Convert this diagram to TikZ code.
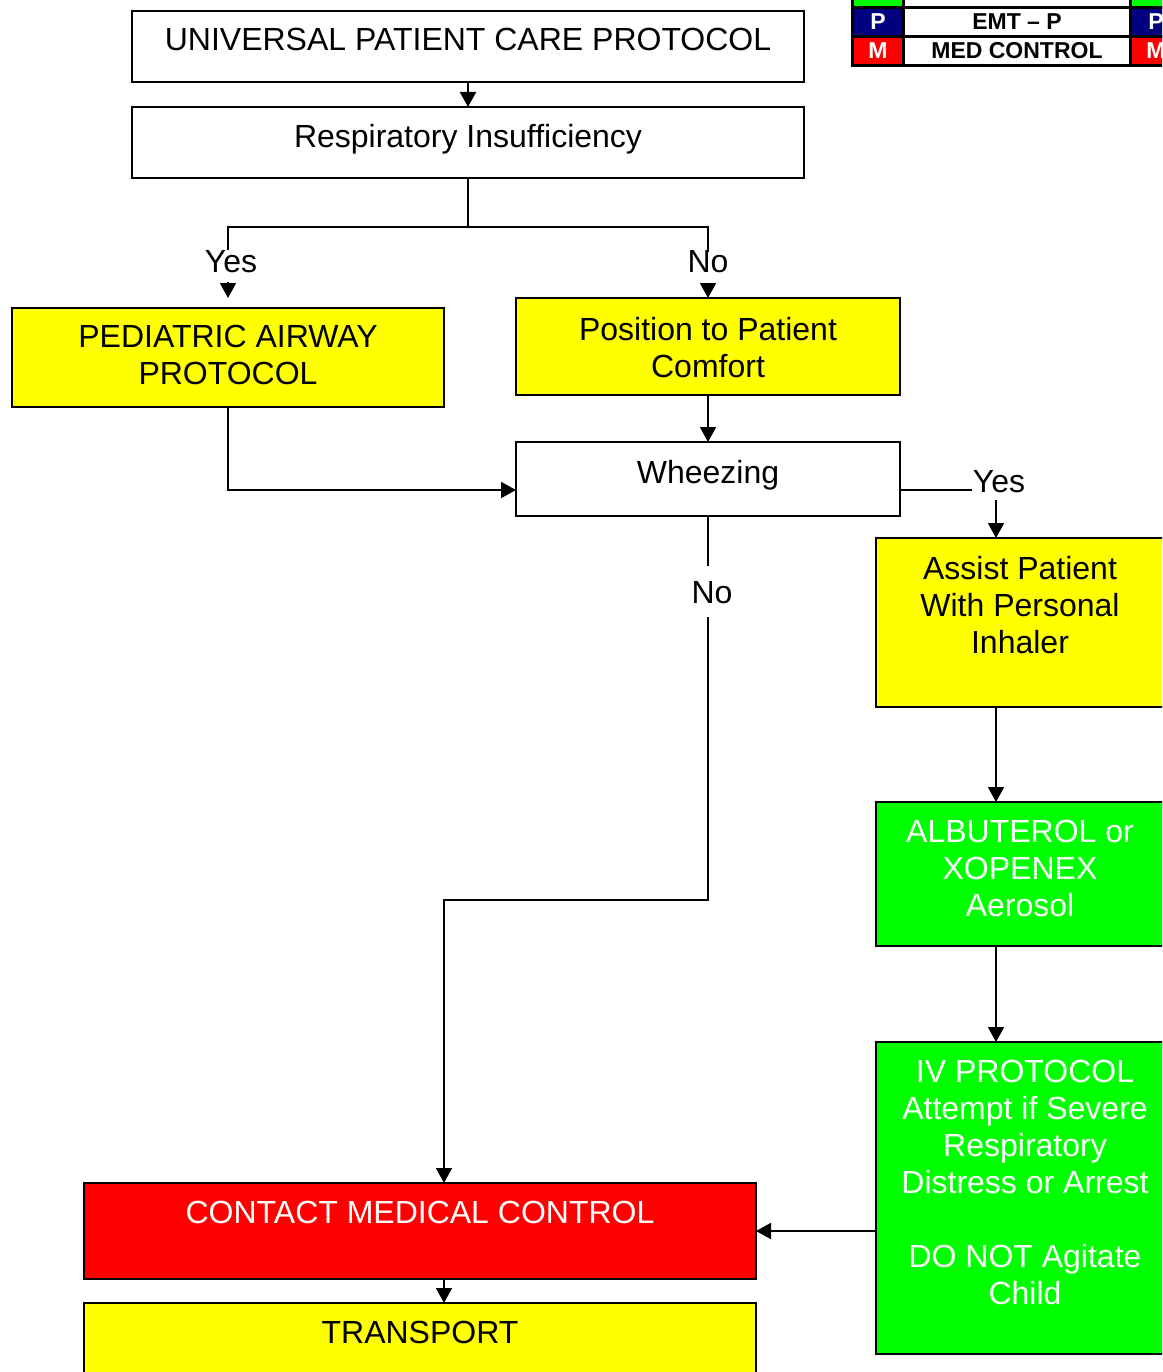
\documentclass[tikz,border=0pt]{standalone}
\usepackage{fontspec}
\setmainfont{Liberation Sans}
\usetikzlibrary{arrows.meta}
\definecolor{flowyellow}{RGB}{255,255,0}
\definecolor{flowgreen}{RGB}{0,255,0}
\definecolor{flowred}{RGB}{255,0,0}
\definecolor{flownavy}{RGB}{0,0,128}
\begin{document}
\begin{tikzpicture}[x=1pt,y=-1pt,
  box/.style={draw=black,line width=2pt,anchor=north west,inner sep=0pt,outer sep=0pt},
  txt/.style={anchor=north,inner sep=0pt,align=center,font=\fontsize{32}{37}\selectfont},
  conn/.style={line width=2pt,draw=black},
  arr/.style={conn,-{Triangle[length=15pt,width=16pt]}},
  cell/.style={draw=black,line width=3pt,anchor=north west,inner sep=0pt,
    minimum height=29pt,font=\fontsize{23}{26}\selectfont\bfseries}]

\useasboundingbox (0,0) rectangle (1162,1372);
\clip (0,0) rectangle (1162,1372);
\fill[white] (0,0) rectangle (1162,1372);

% ---- boxes ----
\node[box,minimum width=672pt,minimum height=71pt] (univ) at (132,11) {};
\node[box,minimum width=672pt,minimum height=71pt] (resp) at (132,107) {};
\node[box,fill=flowyellow,minimum width=432pt,minimum height=99pt] (ped) at (12,308) {};
\node[box,fill=flowyellow,minimum width=384pt,minimum height=97pt] (pos) at (516,298) {};
\node[box,minimum width=384pt,minimum height=74pt] (wheez) at (516,442) {};
\node[box,fill=flowyellow,minimum width=292pt,minimum height=169pt] (assist) at (876,538) {};
\node[box,fill=flowgreen,minimum width=292pt,minimum height=144pt] (alb) at (876,802) {};
\node[box,fill=flowgreen,minimum width=292pt,minimum height=312pt] (iv) at (876,1042) {};
\node[box,fill=flowred,minimum width=672pt,minimum height=96pt] (contact) at (84,1183) {};
\node[box,fill=flowyellow,minimum width=672pt,minimum height=100pt] (transport) at (84,1303) {};

% ---- box texts ----
\node[txt] (univT) at (468,28) {UNIVERSAL PATIENT CARE PROTOCOL};
\node[txt] (respT) at (468,124) {Respiratory Insufficiency};
\node[txt] (pedT) at (228,325) {PEDIATRIC AIRWAY\\PROTOCOL};
\node[txt] (posT) at (708,317) {Position to Patient\\Comfort};
\node[txt] (wheezT) at (708,460) {Wheezing};
\node[txt] (assistT) at (1020,556) {Assist Patient\\With Personal\\Inhaler};
\node[txt,text=white] (albT) at (1020,820) {ALBUTEROL or\\XOPENEX\\Aerosol};
\node[txt,text=white] (ivT) at (1025,1060) {IV PROTOCOL\\Attempt if Severe\\Respiratory\\Distress or Arrest\\[37pt]DO NOT Agitate\\Child};
\node[txt,text=white] (contactT) at (420,1201) {CONTACT MEDICAL CONTROL};
\node[txt] (transportT) at (420,1321) {TRANSPORT};

% ---- connectors ----
\draw[arr] (univ.south) -- (resp.north);

\coordinate (split) at (468,227);
\draw[conn] (resp.south) -- (split);
\coordinate (yesTop) at (228,250);
\draw[conn] (split) -| (yesTop);
\node[txt] (yesL) at (231,250) {Yes};
\coordinate (yesBot) at (228,282);
\draw[arr] (yesBot) -- ([yshift=10pt]ped.north);

\coordinate (noTop) at (708,252);
\draw[conn] (split) -| (noTop);
\node[txt] (noL) at (708,250) {No};
\coordinate (noBot) at (708,283);
\draw[arr] (noBot) -- (pos.north);

\draw[arr] (pos.south) -- (wheez.north);
\draw[arr] (ped.south) |- ([yshift=-11pt]wheez.west);

\coordinate (yesR) at (972,490);
\draw[conn] ([yshift=-11pt]wheez.east) -- (yesR);
\node[txt] (yesRL) at (999,470) {Yes};
\coordinate (yesR2) at (996,500);
\draw[arr] (yesR2) -- (yesR2 |- assist.north);
\draw[arr] (assist.south -| yesR2) -- (alb.north -| yesR2);
\draw[arr] (alb.south -| yesR2) -- (iv.north -| yesR2);

\coordinate (noW) at (708,566);
\draw[conn] (wheez.south) -- (noW);
\node[txt] (noWL) at (712,581) {No};
\coordinate (noW2) at (708,617);
\coordinate (bend) at (444,900);
\draw[arr] (noW2) |- (bend) -- (bend |- contact.north);
\draw[arr] (contact.south -| bend) -- (transport.north -| bend);
\draw[arr] (contact.east -| iv.west) -- (contact.east);

% ---- level legend ----
\node[cell,fill=flowgreen,minimum width=51pt] (lgA1) at (851,-23) {};
\node[cell,fill=white,minimum width=227pt] (lgA2) at (902,-23) {};
\node[cell,fill=flowgreen,minimum width=51pt] (lgA3) at (1129,-23) {};
\node[cell,fill=flownavy,text=white,minimum width=51pt] (lgB1) at (851,6) {P};
\node[cell,fill=white,minimum width=227pt] (lgB2) at (902,6) {EMT – P};
\node[cell,fill=flownavy,text=white,minimum width=51pt] (lgB3) at (1129,6) {P};
\node[cell,fill=flowred,text=white,minimum width=51pt] (lgC1) at (851,35) {M};
\node[cell,fill=white,minimum width=227pt] (lgC2) at (902,35) {MED CONTROL};
\node[cell,fill=flowred,text=white,minimum width=51pt] (lgC3) at (1129,35) {M};
\end{tikzpicture}
\end{document}
